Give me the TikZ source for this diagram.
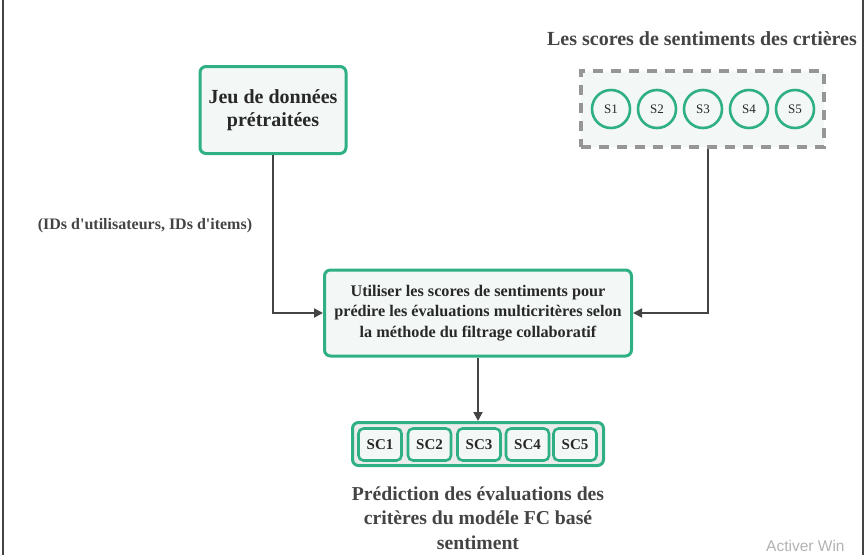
\documentclass[tikz,border=0pt]{standalone}
\usepackage{fontspec}
\setmainfont{Liberation Serif}
\newfontfamily\plainserif{Liberation Serif}
\newfontfamily\wmfont{Liberation Sans}
\usetikzlibrary{arrows.meta}
\definecolor{grn}{RGB}{46,176,132}
\definecolor{boxfill}{RGB}{243,247,246}
\definecolor{txt}{RGB}{40,40,40}
\definecolor{cap}{RGB}{68,68,68}
\definecolor{dashgray}{RGB}{150,150,150}
\definecolor{outfill}{RGB}{236,236,236}
\definecolor{arr}{RGB}{68,68,68}
\tikzset{
  gbox/.style={draw=grn, line width=3pt, fill=boxfill, rounded corners=6pt, align=center, text=txt, inner sep=0pt},
  scircle/.style={circle, draw=grn, line width=2.6pt, fill=boxfill, minimum size=38pt, inner sep=0pt, text=txt, font=\fontsize{13}{15}\selectfont},
  scbox/.style={draw=grn, line width=2.6pt, fill=boxfill, rounded corners=5pt, minimum width=43pt, minimum height=32pt, inner sep=0pt, text=txt, font=\bfseries\fontsize{15}{17}\selectfont},
  conn/.style={draw=arr, line width=1.8pt, -{Triangle[length=9pt,width=9pt]}},
  captxt/.style={text=cap, align=center, font=\bfseries}
}
\begin{document}
\begin{tikzpicture}[x=1pt,y=-1pt]
\useasboundingbox (0,0) rectangle (867,555);
% frame lines
\draw[draw=arr, line width=1.2pt] (3,0) -- (3,555);
\draw[draw=arr, line width=1.2pt] (863,0) -- (863,555);

% top-left box
\node[gbox, minimum width=146pt, minimum height=87pt, font=\bfseries\fontsize{20}{23}\selectfont] (jeu) at (273,110) {Jeu de données\\prétraitées};

% title
\node[captxt, font=\bfseries\fontsize{20}{22}\selectfont] (title) at (702,39) {Les scores de sentiments des crtières};

% dashed box
\node[draw=dashgray, line width=4pt, dash pattern=on 10pt off 8pt, fill=boxfill, minimum width=243pt, minimum height=76pt, inner sep=0pt] (scores) at (702.5,109) {};
\node[scircle] (s1) at (611,109) {S1};
\node[scircle] (s2) at (657,109) {S2};
\node[scircle] (s3) at (703,109) {S3};
\node[scircle] (s4) at (749,109) {S4};
\node[scircle] (s5) at (795,109) {S5};

% label
\node[captxt, font=\plainserif\bfseries\fontsize{16}{18}\selectfont] (ids) at (145,226) {(IDs d'utilisateurs, IDs d'items)};

% middle box
\node[gbox, minimum width=307pt, minimum height=86pt, font=\bfseries\fontsize{16.2}{20.5}\selectfont] (mid) at (478,313) {Utiliser les scores de sentiments pour\\prédire les évaluations multicritères selon\\la méthode du filtrage collaboratif};

% output box
\node[draw=grn, line width=3pt, fill=outfill, rounded corners=6pt, minimum width=251pt, minimum height=43pt, inner sep=0pt] (out) at (478,444) {};
\node[scbox] (sc1) at (380,444.5) {SC1};
\node[scbox] (sc2) at (429.5,444.5) {SC2};
\node[scbox] (sc3) at (479,444.5) {SC3};
\node[scbox] (sc4) at (527.5,444.5) {SC4};
\node[scbox] (sc5) at (575,444.5) {SC5};

% caption
\node[captxt, font=\bfseries\fontsize{19.7}{24.5}\selectfont] (caption) at (478,518) {Prédiction des évaluations des\\critères du modéle FC basé\\sentiment};

% watermark
\node[anchor=west, text=black!30, font=\wmfont\fontsize{15.5}{17}\selectfont, inner sep=0pt] (wm) at (766,546) {Activer Win};

% connectors
\draw[conn] (jeu.south) |- (mid.west);
\draw[conn] ([xshift=5.5pt]scores.south) |- (mid.east);
\draw[conn] (mid.south) -- (out.north);
\end{tikzpicture}
\end{document}
